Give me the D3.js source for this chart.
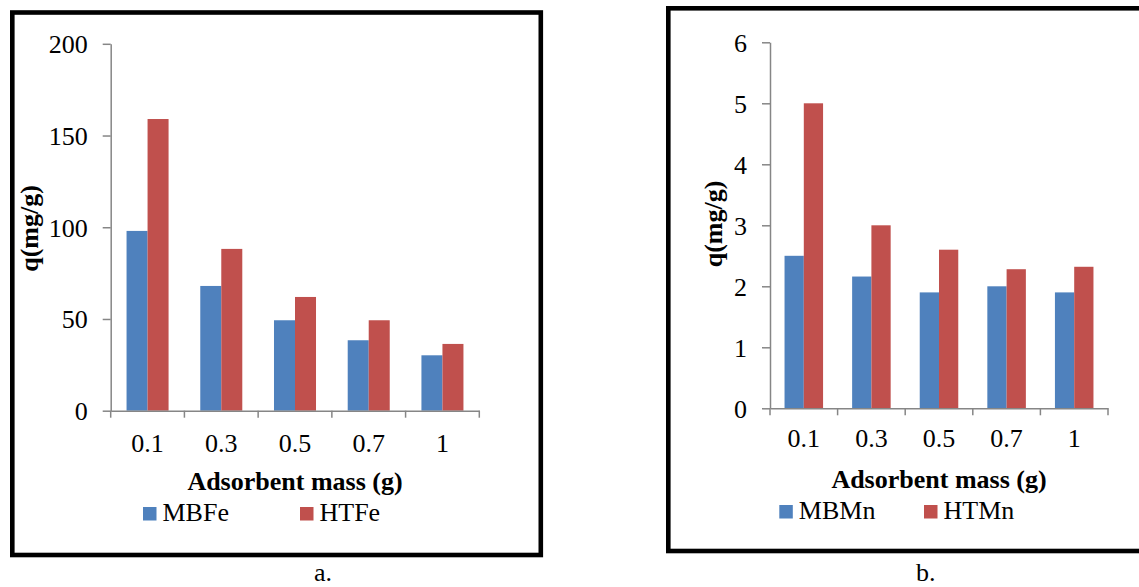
<!DOCTYPE html>
<html>
<head>
<meta charset="utf-8">
<script src="https://cdn.jsdelivr.net/npm/d3@7"></script>
<style>
  body { margin: 0; background: #fff; }
  svg { display: block; }
  text { font-family: "Liberation Serif", "Times New Roman", serif; fill: #000; }
</style>
</head>
<body>
<svg id="chart" width="1139" height="587"></svg>
<script>
// data
const categories = ["0.1", "0.3", "0.5", "0.7", "1"];

const mbFe = [98, 68, 49.3, 38.4, 30.2];
const htFe = [159, 88.2, 62, 49.3, 36.4];
const feTicks = [0, 50, 100, 150, 200];

const mbMn = [2.5, 2.16, 1.9, 2.0, 1.9];
const htMn = [5.0, 3.0, 2.6, 2.28, 2.32];
const mnTicks = [0, 1, 2, 3, 4, 5, 6];

const blue = "#4f81bd";
const red = "#c0504d";
const axisGrey = "#868686";
const serif = "Liberation Serif";

const svg = d3.select("#chart");

function panel(opt) {
  const g = svg.append("g");

  // black frame
  g.append("rect")
    .attr("x", opt.frame[0]).attr("y", opt.frame[1])
    .attr("width", opt.frame[2]).attr("height", opt.frame[3])
    .attr("fill", "#fff").attr("stroke", "#000").attr("stroke-width", 4.6);

  const x = d3.scaleBand().domain(categories).range([opt.x0, opt.x1]);
  const inner = d3.scaleBand().domain([0, 1])
    .range([x.bandwidth() * 0.215, x.bandwidth() * 0.785]);
  const y = d3.scaleLinear().domain([0, d3.max(opt.ticks)]).range([opt.y0, opt.yTop]);

  const rows = categories.map((c, i) => ({ c, v: [opt.a[i], opt.b[i]] }));

  g.append("g").selectAll("g")
    .data(rows)
    .join("g")
    .attr("transform", d => `translate(${x(d.c)},0)`)
    .selectAll("rect")
    .data(d => d.v)
    .join("rect")
    .attr("x", (d, i) => inner(i))
    .attr("width", inner.bandwidth())
    .attr("y", d => y(d))
    .attr("height", d => y(0) - y(d))
    .attr("fill", (d, i) => i === 0 ? blue : red);

  // y axis
  const ya = g.append("g")
    .attr("transform", `translate(${opt.x0},0)`)
    .call(d3.axisLeft(y).tickValues(opt.ticks).tickFormat(d => String(d))
      .tickSize(8).tickPadding(15).tickSizeOuter(0));
  ya.attr("font-family", serif);
  ya.selectAll("text").attr("font-size", 26).attr("dy", "0.34em");

  // x axis: labels in band centres, ticks at band edges
  const xa = g.append("g")
    .attr("transform", `translate(0,${opt.y0})`)
    .call(d3.axisBottom(x).tickSize(0).tickPadding(opt.xPad).tickSizeOuter(0));
  xa.attr("font-family", serif);
  xa.selectAll("text").attr("font-size", 26);
  xa.selectAll(".tick line").remove();
  xa.append("g").selectAll("line")
    .data(categories.map(c => x(c)).concat([x(categories[categories.length - 1]) + x.bandwidth()]))
    .join("line")
    .attr("x1", d => d).attr("x2", d => d)
    .attr("y1", 0).attr("y2", 7)
    .attr("stroke", axisGrey).attr("stroke-width", 1.5);

  g.selectAll(".domain").attr("stroke", axisGrey).attr("stroke-width", 1.5);
  g.selectAll(".tick line").attr("stroke", axisGrey).attr("stroke-width", 1.5);

  // y title
  g.append("text")
    .attr("transform", `translate(${opt.yTitle[0]},${opt.yTitle[1]}) rotate(-90)`)
    .attr("text-anchor", "middle")
    .attr("font-family", serif)
    .attr("font-size", 26).attr("font-weight", "bold")
    .text("q(mg/g)");

  // x title
  g.append("text")
    .attr("x", (opt.x0 + opt.x1) / 2).attr("y", opt.xTitleY)
    .attr("text-anchor", "middle")
    .attr("font-family", serif)
    .attr("font-size", 26).attr("font-weight", "bold")
    .text("Adsorbent mass (g)");

  // legend
  const lg = g.append("g").attr("transform", `translate(0,${opt.legendY})`);
  opt.names.forEach((name, i) => {
    lg.append("rect")
      .attr("x", opt.legendX[i]).attr("y", -14)
      .attr("width", 13.5).attr("height", 13.5)
      .attr("fill", i === 0 ? blue : red);
    lg.append("text")
      .attr("x", opt.legendX[i] + 19.5).attr("y", 0)
      .attr("font-family", serif)
      .attr("font-size", 26)
      .text(name);
  });

  // caption
  g.append("text")
    .attr("x", opt.caption[0]).attr("y", opt.caption[1])
    .attr("font-family", serif)
    .attr("font-size", 26)
    .text(opt.captionText);
}

panel({
  frame: [12.3, 12.5, 528.5, 542.5],
  x0: 110.7, x1: 479.3, y0: 410.7, yTop: 43.8,
  a: mbFe, b: htFe, ticks: feTicks,
  xPad: 23,
  yTitle: [37.5, 228.5],
  xTitleY: 489.5,
  legendY: 521,
  legendX: [143, 300],
  names: ["MBFe", "HTFe"],
  caption: [314, 581],
  captionText: "a."
});

panel({
  frame: [668.3, 8.3, 520, 542.7],
  x0: 770, x1: 1108, y0: 408.3, yTop: 42.3,
  a: mbMn, b: htMn, ticks: mnTicks,
  xPad: 20.5,
  yTitle: [722, 224],
  xTitleY: 487.5,
  legendY: 519,
  legendX: [779.3, 924],
  names: ["MBMn", "HTMn"],
  caption: [916, 581],
  captionText: "b."
});
</script>
</body>
</html>
